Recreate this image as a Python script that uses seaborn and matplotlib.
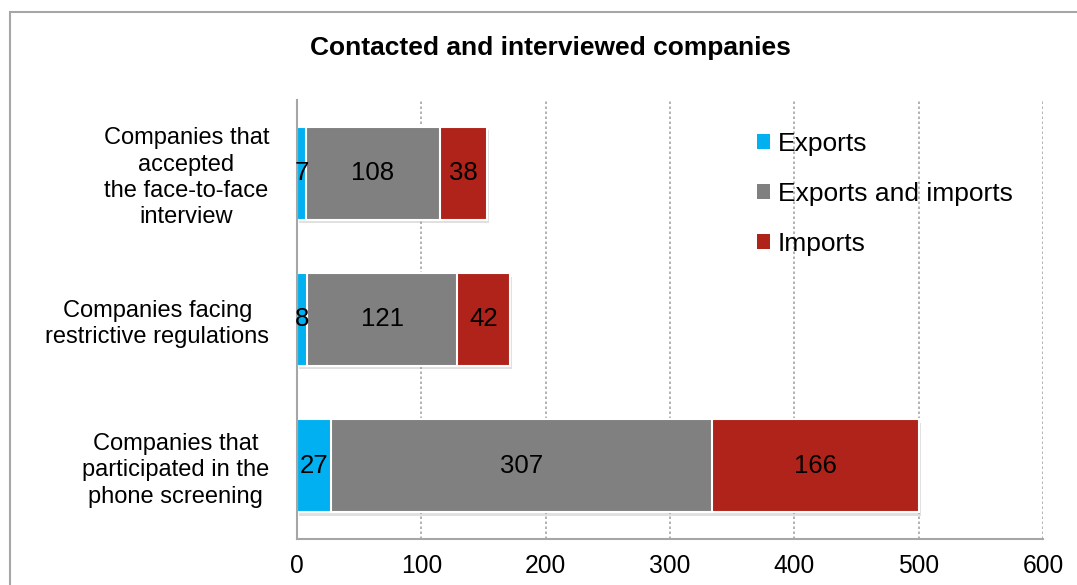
import matplotlib
matplotlib.use("Agg")
import matplotlib.pyplot as plt
import matplotlib.patheffects as pe
from matplotlib.patches import Rectangle
import seaborn as sns
import pandas as pd

# Data
categories = [
    "Companies that\naccepted\nthe face-to-face\ninterview",
    "Companies facing\nrestrictive regulations",
    "Companies that\nparticipated in the\nphone screening",
]
exports = [7, 8, 27]
exports_and_imports = [108, 121, 307]
imports = [38, 42, 166]
series_names = ["Exports", "Exports and imports", "Imports"]
colors = ["#00B0F0", "#808080", "#B0231A"]
x_ticks = [0, 100, 200, 300, 400, 500, 600]

sns.set_theme(style="white")
plt.rcParams["font.family"] = ["Liberation Sans", "DejaVu Sans"]
plt.rcParams["text.color"] = "black"
plt.rcParams["xtick.color"] = "black"
plt.rcParams["ytick.color"] = "black"

df = pd.DataFrame({
    "category": categories,
    "Exports": exports,
    "Exports and imports": exports_and_imports,
    "Imports": imports,
})
# cumulative ends of each stacked segment
df["end_exports"] = df["Exports"]
df["end_both"] = df["Exports"] + df["Exports and imports"]
df["end_imports"] = df["end_both"] + df["Imports"]

fig = plt.figure(figsize=(10.77, 5.85), dpi=100)
ax = fig.add_axes([297 / 1077, 1 - 539 / 585, (1043 - 297) / 1077, (539 - 100) / 585])

bar_h = 0.635
layers = [("end_imports", colors[2], series_names[2]),
          ("end_both", colors[1], series_names[1]),
          ("end_exports", colors[0], series_names[0])]
for col, color, name in layers:
    sns.barplot(data=df, x=col, y="category", orient="h", color=color,
                saturation=1, width=bar_h, edgecolor="white", linewidth=1.5,
                ax=ax, label=name, zorder=3)

# soft drop shadow under the full stacked bars
for patch in ax.patches[:3]:
    patch.set_path_effects([pe.SimplePatchShadow(offset=(1.5, -2.5), shadow_rgbFace="#999999", alpha=0.3),
                            pe.Normal()])

# segment value labels
for i in range(len(categories)):
    starts = [0, exports[i], exports[i] + exports_and_imports[i]]
    vals = [exports[i], exports_and_imports[i], imports[i]]
    for s, v in zip(starts, vals):
        ax.text(s + v / 2, i, str(v), ha="center", va="center",
                fontsize=18.5, color="black", zorder=5)

ax.set_xlim(0, 600)
ax.set_ylim(2.5, -0.5)
ax.set_xticks(x_ticks)
ax.set_xticklabels([str(t) for t in x_ticks], fontsize=17.7)
ax.set_xlabel("")
ax.set_ylabel("")
ax.tick_params(axis="x", length=0, pad=11)
ax.tick_params(axis="y", length=0, pad=20)
for lbl in ax.get_yticklabels():
    lbl.set_fontsize(17)
    lbl.set_multialignment("center")
    lbl.set_linespacing(1.25)

ax.grid(axis="x", linestyle=(0, (1.5, 1.5)), color="#A6A6A6", linewidth=1.2, zorder=0)
ax.set_axisbelow(True)
for side in ["top", "right"]:
    ax.spines[side].set_visible(False)
for side in ["left", "bottom"]:
    ax.spines[side].set_color("#A6A6A6")
    ax.spines[side].set_linewidth(1.5)
    ax.spines[side].set_zorder(4)

handles, labels = ax.get_legend_handles_labels()
order = [labels.index(n) for n in series_names]
leg = ax.legend([handles[k] for k in order], [labels[k] for k in order],
                loc="upper left", bbox_to_anchor=((746 - 297) / (1043 - 297), (539 - 121) / 439),
                frameon=False, fontsize=19, handlelength=0.5, handleheight=0.5,
                handletextpad=0.3, labelspacing=1.0, borderaxespad=0)
for h in leg.legend_handles:
    h.set_edgecolor("none")
    h.set_path_effects([])

fig.text(550.5 / 1077, 1 - 48 / 585, "Contacted and interviewed companies",
         ha="center", va="center", fontsize=19, fontweight="bold")

# outer frame
fig.patches.append(Rectangle((10 / 1077, -0.1), 1.1, 1 - 12 / 585 + 0.1,
                             transform=fig.transFigure, fill=False,
                             edgecolor="#A6A6A6", linewidth=1.5))

fig.savefig("out.png", dpi=100)
